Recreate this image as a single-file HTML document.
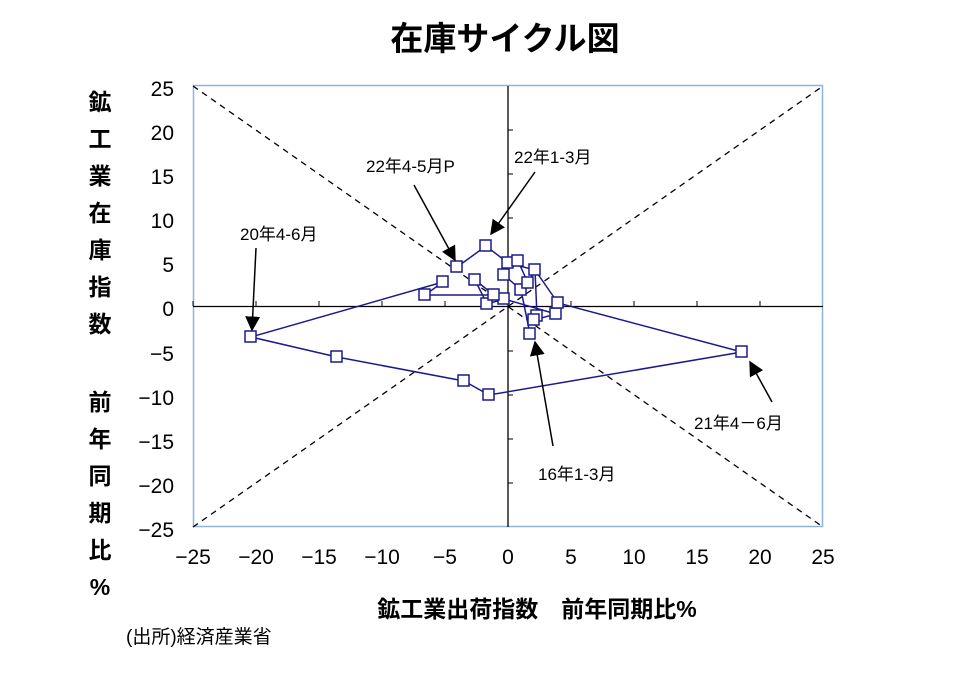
<!DOCTYPE html>
<html><head><meta charset="utf-8"><style>
body{margin:0;background:#fff;}
svg{display:block;font-family:"Liberation Sans","Noto Sans CJK JP",sans-serif;}
</style></head><body>
<svg width="967" height="686" viewBox="0 0 967 686">
<text x="505" y="50" font-size="33" font-weight="bold" text-anchor="middle">在庫サイクル図</text>
<rect x="193.5" y="85.5" width="629" height="441" fill="none" stroke="#8fb4dc" stroke-width="1.5"/>
<g stroke="#000" stroke-width="1.3" stroke-dasharray="6,5" fill="none">
<line x1="193" y1="86" x2="823" y2="527"/>
<line x1="193" y1="527" x2="823" y2="86"/>
</g>
<g stroke="#000" stroke-width="1.3">
<line x1="193" y1="306.5" x2="823" y2="306.5"/>
<line x1="508" y1="86" x2="508" y2="527"/>
</g>
<g stroke="#000" stroke-width="1">
<line x1="193" y1="306" x2="193" y2="301"/><line x1="256" y1="306" x2="256" y2="301"/><line x1="319" y1="306" x2="319" y2="301"/><line x1="382" y1="306" x2="382" y2="301"/><line x1="445" y1="306" x2="445" y2="301"/><line x1="571" y1="306" x2="571" y2="301"/><line x1="634" y1="306" x2="634" y2="301"/><line x1="697" y1="306" x2="697" y2="301"/><line x1="760" y1="306" x2="760" y2="301"/>
<line x1="508" y1="130" x2="513" y2="130"/><line x1="508" y1="174" x2="513" y2="174"/><line x1="508" y1="218" x2="513" y2="218"/><line x1="508" y1="262" x2="513" y2="262"/><line x1="508" y1="351" x2="513" y2="351"/><line x1="508" y1="395" x2="513" y2="395"/><line x1="508" y1="439" x2="513" y2="439"/><line x1="508" y1="483" x2="513" y2="483"/>
</g>
<g font-size="21" text-anchor="end">
<text x="174" y="96">25</text><text x="174" y="140">20</text><text x="174" y="184">15</text><text x="174" y="228">10</text><text x="174" y="272">5</text><text x="174" y="316">0</text><text x="174" y="361">−5</text><text x="174" y="405">−10</text><text x="174" y="449">−15</text><text x="174" y="493">−20</text><text x="174" y="537">−25</text>
</g>
<g font-size="21" text-anchor="middle">
<text x="193" y="564">−25</text><text x="256" y="564">−20</text><text x="319" y="564">−15</text><text x="382" y="564">−10</text><text x="445" y="564">−5</text><text x="508" y="564">0</text><text x="571" y="564">5</text><text x="634" y="564">10</text><text x="697" y="564">15</text><text x="760" y="564">20</text><text x="823" y="564">25</text>
</g>
<g font-size="23" font-weight="bold" text-anchor="middle">
<text x="100" y="110">鉱</text><text x="100" y="147">工</text><text x="100" y="184">業</text><text x="100" y="221">在</text><text x="100" y="258">庫</text><text x="100" y="295">指</text><text x="100" y="332">数</text>
<text x="100" y="410">前</text><text x="100" y="447">年</text><text x="100" y="484">同</text><text x="100" y="521">期</text><text x="100" y="558">比</text><text x="100" y="595">%</text>
</g>
<text x="537" y="617" font-size="23" font-weight="bold" text-anchor="middle">鉱工業出荷指数　前年同期比%</text>
<text x="126" y="643" font-size="19">(出所)経済産業省</text>
<polyline fill="none" stroke="#1a1a8c" stroke-width="1.5" points="530,334 521,290 504,275 508,263 518,261 528,283 535,270 537,316 534,320 556,314 504,299 487,304 475,280 494,295 425,295 443,282 251,337 337,357 464,381 489,395 742,352 558,303 535,270 508,263 486,246 457,267"/>
<g fill="#fff" stroke="#1a1a8c" stroke-width="1.5">
<rect x="524" y="328" width="11" height="11"/><rect x="515" y="284" width="11" height="11"/><rect x="498" y="269" width="11" height="11"/><rect x="502" y="257" width="11" height="11"/><rect x="512" y="255" width="11" height="11"/><rect x="522" y="277" width="11" height="11"/><rect x="529" y="264" width="11" height="11"/><rect x="531" y="310" width="11" height="11"/><rect x="528" y="314" width="11" height="11"/><rect x="550" y="308" width="11" height="11"/><rect x="498" y="293" width="11" height="11"/><rect x="481" y="298" width="11" height="11"/><rect x="469" y="274" width="11" height="11"/><rect x="488" y="289" width="11" height="11"/><rect x="419" y="289" width="11" height="11"/><rect x="437" y="276" width="11" height="11"/><rect x="245" y="331" width="11" height="11"/><rect x="331" y="351" width="11" height="11"/><rect x="458" y="375" width="11" height="11"/><rect x="483" y="389" width="11" height="11"/><rect x="736" y="346" width="11" height="11"/><rect x="552" y="297" width="11" height="11"/><rect x="480" y="240" width="11" height="11"/><rect x="451" y="261" width="11" height="11"/>
</g>
<defs><marker id="a" markerWidth="10" markerHeight="10" refX="9" refY="5" orient="auto"><path d="M0,0 L10,5 L0,10 z" fill="#000"/></marker></defs>
<g stroke="#000" stroke-width="1.5" marker-end="url(#a)">
<line x1="256" y1="248" x2="252" y2="330"/>
<line x1="414" y1="185" x2="455" y2="260"/>
<line x1="535" y1="172" x2="491" y2="234"/>
<line x1="772" y1="402" x2="750" y2="362"/>
<line x1="553" y1="446" x2="535" y2="342"/>
</g>
<g font-size="17">
<text x="240" y="240">20年4-6月</text>
<text x="366" y="172">22年4-5月P</text>
<text x="514" y="163">22年1-3月</text>
<text x="694" y="429">21年4－6月</text>
<text x="538" y="480">16年1-3月</text>
</g>
</svg>
</body></html>
